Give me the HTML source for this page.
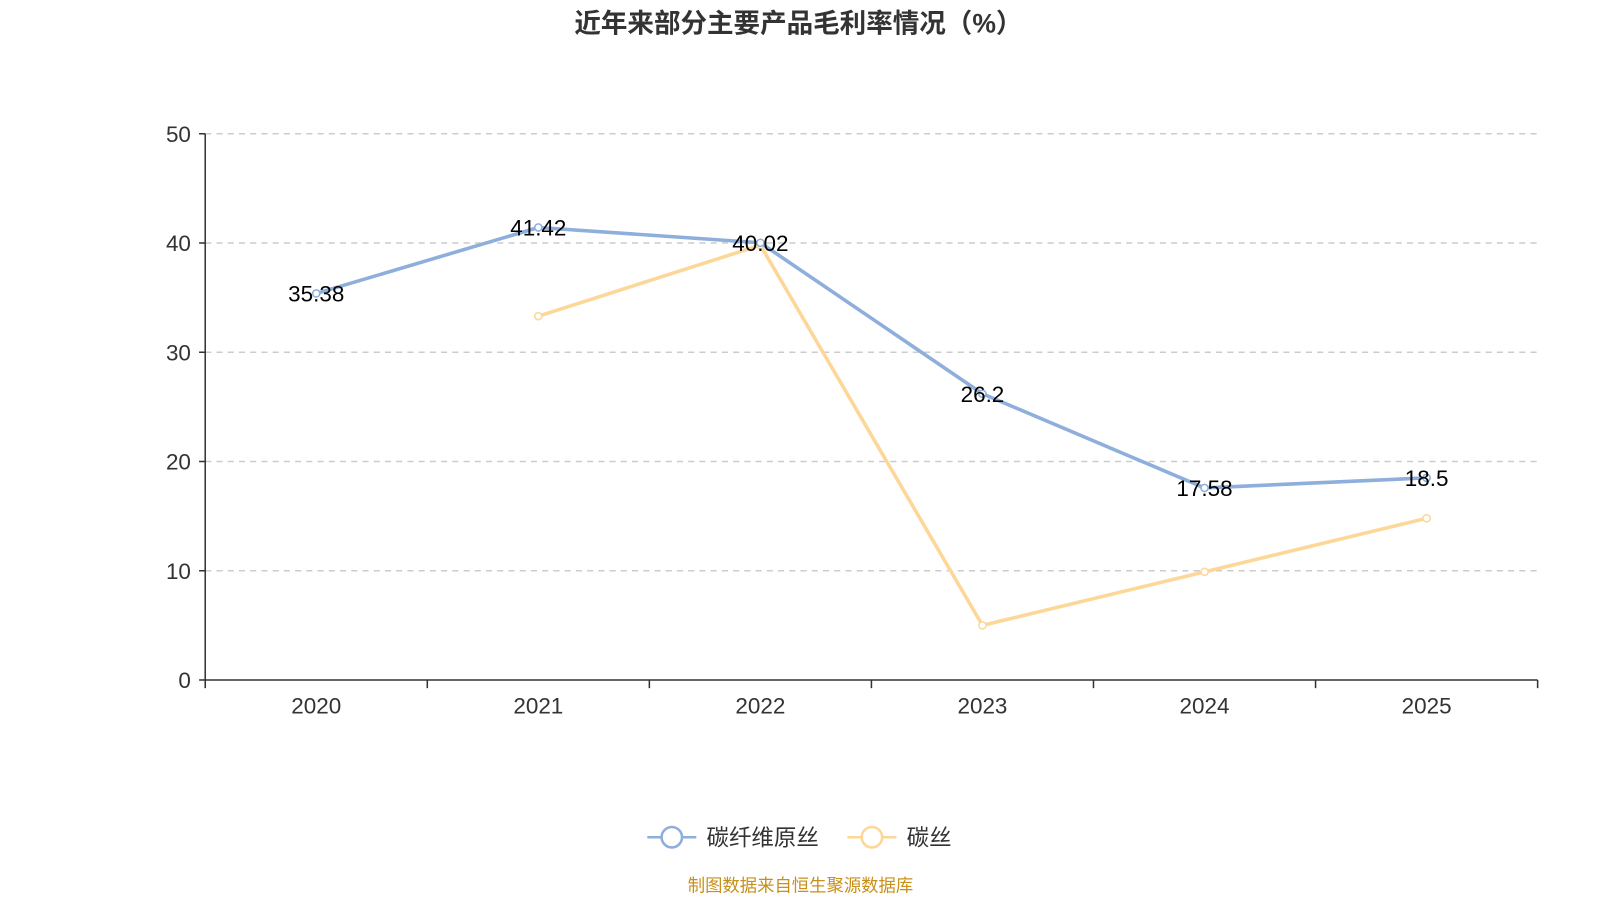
<!DOCTYPE html>
<html><head><meta charset="utf-8"><style>
html,body{margin:0;padding:0;background:#fff;}
svg{display:block;font-family:"Liberation Sans","Noto Sans CJK SC",sans-serif;}
</style></head><body>
<svg id="chart" width="1600" height="900" viewBox="0 0 1600 900">
<g transform="scale(1.021)">
<text x="782" y="32" text-anchor="middle" font-size="26" font-weight="bold" fill="#333">近年来部分主要产品毛利率情况（%）</text>
<g id="grid"></g>
<g id="axes"></g>
<g id="series"></g>
<g>
<g>
<line x1="634" y1="820" x2="682" y2="820" stroke="#8eaedb" stroke-width="2.5"/>
<circle cx="658" cy="820" r="10" fill="#fff" stroke="#8eaedb" stroke-width="2.5"/>
<text x="692" y="828" font-size="22" fill="#333">碳纤维原丝</text></g>
<g>
<line x1="830" y1="820" x2="878" y2="820" stroke="#fdd797" stroke-width="2.5"/>
<circle cx="854" cy="820" r="10" fill="#fff" stroke="#fdd797" stroke-width="2.5"/>
<text x="888" y="828" font-size="22" fill="#333">碳丝</text></g>
</g>
<text x="784" y="873" text-anchor="middle" font-size="17" fill="#c8901a">制图数据来自恒生聚源数据库</text>
</g>
</svg>
<script>
const categories = ['2020','2021','2022','2023','2024','2025'];
const fiberValues = [35.38,41.42,40.02,26.2,17.58,18.5];
const carbonValues = [null,33.3,39.8,5.0,9.9,14.8];
const yTicks = [0,10,20,30,40,50];
const NS='http://www.w3.org/2000/svg';
const L=201,R=1506,T=131,B=666,yMax=50;
const bw=(R-L)/categories.length;
const xs=i=>L+bw*(i+0.5);
const ys=v=>B-(v/yMax)*(B-T);
function mk(tag,attrs,parent,txt){const e=document.createElementNS(NS,tag);for(const k in attrs)e.setAttribute(k,attrs[k]);if(txt!==undefined)e.textContent=txt;parent.appendChild(e);return e;}
const grid=document.getElementById('grid'),axes=document.getElementById('axes'),series=document.getElementById('series');
yTicks.forEach(t=>{
  const y=ys(t);
  if(t>0){const g=mk('line',{x1:L,x2:R,y1:y,y2:y,stroke:'#ccc','stroke-dasharray':'6,5','stroke-width':1.5},grid);
  
  }
  const tk=mk('line',{x1:L-6,x2:L,y1:y,y2:y,stroke:'#333','stroke-width':1.5},axes);
  
  
  const lb=mk('text',{x:L-14,y:y+8,'text-anchor':'end','font-size':22,fill:'#333'},axes,String(t));
  
  
});
mk('line',{x1:L,x2:L,y1:T,y2:B,stroke:'#333','stroke-width':1.5},axes);
mk('line',{x1:L,x2:R,y1:B,y2:B,stroke:'#333','stroke-width':1.5},axes);
for(let i=0;i<=categories.length;i++){const x=L+bw*i;const t=mk('line',{x1:x,x2:x,y1:B,y2:B+8,stroke:'#333','stroke-width':1.5},axes);
  
  }
categories.forEach((c,i)=>{const t=mk('text',{x:xs(i),y:B+33,'text-anchor':'middle','font-size':22,fill:'#333'},axes,c);
  
  });
function drawLine(vals,color,name,labels){
  const pts=[];vals.forEach((v,i)=>{if(v!==null)pts.push([xs(i),ys(v),v]);});
  const p=mk('polyline',{points:pts.map(p=>p[0]+','+p[1]).join(' '),fill:'none',stroke:color,'stroke-width':3.5,'stroke-linejoin':'round'},series);
  
  
  pts.forEach(q=>{const c=mk('circle',{cx:q[0],cy:q[1],r:3.5,fill:'#fff',stroke:color,'stroke-width':1.5},series);
    
    
    if(labels){const t=mk('text',{x:q[0],y:q[1]+8,'text-anchor':'middle','font-size':22,fill:'#000'},series,String(q[2]));
      
      }
  });
}
drawLine(carbonValues,'#fdd797','carbon',false);
drawLine(fiberValues,'#8eaedb','fiber',true);
</script>
</body></html>
